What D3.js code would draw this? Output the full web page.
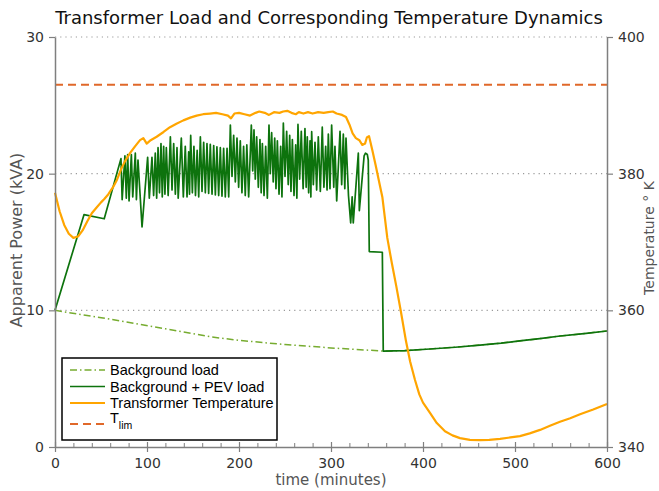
<!DOCTYPE html>
<html><head><meta charset="utf-8">
<script src="https://cdn.jsdelivr.net/npm/d3@7"></script>
<style>
body{margin:0;background:#fff}
svg{display:block}
</style>
</head><body>
<svg id="chart" width="659" height="491" font-family="DejaVu Sans, sans-serif"></svg>
<script>
// ---------------- data ----------------
const bgTime = [0, 60, 120, 170, 200, 250, 300, 356.8, 380, 407.6, 435, 462, 485, 505, 527, 549, 575, 600];
const bgLoad = [10, 9.35, 8.65, 8.05, 7.8, 7.5, 7.25, 7.02, 7.05, 7.17, 7.3, 7.46, 7.6, 7.76, 7.93, 8.12, 8.3, 8.49];

const pevTime = [0, 31.5, 53.5, 71.7, 73.0, 76.0, 77.5, 79.0, 80.5, 83.0, 84.5, 87.3, 88.5, 90.2, 94.6,
  100.7, 102.5, 105.4, 107.2, 109.0, 110.5, 112.0, 113.6, 115.2, 116.6, 118.1, 119.5, 121.0, 123.0, 125.4, 127.2, 129.0, 130.8, 132.6, 133.9,
  137.3, 139.5, 141.6, 143.5, 145.3, 146.2, 147.5, 149.3, 151.0, 152.7, 154.5, 156.2, 158.0, 159.8, 161.6, 163.4, 165.2, 167.0, 168.8, 170.7,
  172.5, 174.3, 176.0, 177.9, 179.7, 181.5, 183.3, 185.1, 187.0, 188.8, 190.6, 192.4, 194.2, 196.0, 197.8, 199.6, 201.4, 203.2, 205.0, 206.8,
  208.5, 210.5, 213.4, 214.9, 216.3, 217.7, 219.2, 221.0, 222.8, 224.1, 225.4, 227.2, 229.0, 230.8, 232.6, 234.0, 235.5, 237.2, 238.8, 240.2,
  241.7, 243.5, 245.3, 246.7, 248.2, 250.0, 251.8, 253.5, 255.1, 256.5, 258.0, 259.8, 261.6, 262.9, 264.1, 265.9, 267.7, 269.7, 271.7, 273.0,
  274.2, 275.7, 277.2, 278.1, 279.0, 280.8, 282.6, 284.4, 286.2, 288.4, 290.5, 292.3, 294.2, 295.7, 297.1, 298.9, 300.7, 303.0, 304.3, 306.2,
  309.8, 311.6, 313.4, 315.0, 316.3, 319.0, 321.4, 323.0, 324.2, 329.7, 330.8, 336.0, 337.5, 339.5, 340.5, 341.6, 355.8, 356.8,
  380, 407.6, 435, 462, 485, 505, 527, 549, 575, 600];
const pevLoad = [10, 17.0, 16.7, 21.1, 18.1, 21.3, 18.2, 21.4, 18.0, 21.4, 18.3, 21.5, 18.1, 21.0, 16.1,
  21.2, 18.2, 21.2, 18.4, 21.5, 18.2, 21.9, 18.6, 22.2, 18.3, 22.0, 18.5, 21.9, 18.4, 22.7, 18.8, 22.2, 18.5, 21.9, 18.2,
  22.6, 18.3, 22.0, 18.3, 21.6, 18.5, 22.8, 18.6, 22.0, 18.4, 21.7, 18.3, 22.7, 18.7, 22.3, 18.6, 22.2, 18.55, 22.15, 18.5,
  22.05, 18.45, 21.97, 18.4, 21.9, 18.35, 21.85, 18.3, 21.85, 18.3, 23.56, 19.8, 22.8, 19.4, 22.6, 19.0, 22.4, 18.6, 22.0, 18.4,
  22.1, 18.3, 23.56, 20.2, 23.2, 19.6, 22.7, 19.0, 22.5, 18.6, 22.2, 18.4, 22.0, 18.2, 23.56, 20.0, 23.0, 19.4, 22.6, 18.9,
  22.4, 18.5, 22.0, 18.3, 23.7, 19.8, 23.1, 19.2, 22.8, 18.7, 22.5, 18.4, 22.1, 18.2, 23.6, 19.6, 23.1, 18.9, 23.3, 19.0,
  22.7, 18.6, 22.4, 18.3, 23.07, 19.2, 22.3, 18.8, 22.7, 18.7, 23.4, 19.0, 22.0, 18.8, 22.9, 18.9, 23.56, 19.0, 22.0, 18.0,
  23.1, 19.2, 22.9, 18.9, 22.6, 18.4, 16.4, 18.3, 16.4, 21.5, 17.3, 21.3, 21.5, 21.4, 21.0, 14.3, 14.25, 7.02,
  7.05, 7.17, 7.3, 7.46, 7.6, 7.76, 7.93, 8.12, 8.3, 8.49];

const tempTime = [0, 5, 10, 15, 20, 25, 30, 35, 40, 45, 50, 53.6, 58, 63.4, 67, 71.7, 76, 81.5, 87, 92.4, 96, 99.7, 104, 110.5,
  118, 125, 132, 139.5, 147, 154, 161, 168.5, 175, 182, 188, 191.3, 195, 200, 206, 212, 218, 222, 228, 232.6, 238, 244, 248,
  252.5, 257, 261.7, 265, 270, 275, 280, 286, 292, 297, 302, 306, 312, 316.3, 320, 323.5, 327, 330.8, 334, 337, 339, 341.3,
  345, 348.6, 352, 355.8, 361.2, 366, 371, 376, 381.5, 386, 391.3, 396, 400, 407.6, 415, 423.9, 432, 440.2, 451, 462, 472,
  483.7, 495, 505.4, 516, 527.2, 538, 548.9, 560, 570.7, 585, 600];
const tempK = [377.2, 374.5, 372.5, 371.2, 370.6, 370.8, 371.7, 373.0, 374.2, 375.0, 375.8, 376.3, 377.0, 378.1, 379.0, 380.6,
  381.8, 383.0, 384.0, 384.9, 385.2, 384.4, 384.9, 385.4, 386.1, 386.8, 387.3, 387.8, 388.2, 388.5, 388.7, 388.8, 388.9, 388.7,
  388.5, 388.1, 388.8, 388.9, 388.7, 388.5, 388.9, 389.1, 388.9, 388.6, 389.0, 388.9, 389.1, 389.2, 388.9, 388.7, 389.0, 388.8,
  389.0, 388.8, 389.0, 388.9, 389.0, 389.1, 388.8, 388.6, 388.3, 387.2, 385.9, 385.2, 384.9, 384.2, 384.4, 385.3, 385.5,
  383.4, 381.2, 379.0, 376.6, 370.6, 367.0, 363.5, 359.8, 355.5, 352.5, 349.8, 347.7, 346.5, 345.0, 343.5, 342.3, 341.7,
  341.3, 341.05, 341.0, 341.05, 341.2, 341.4, 341.6, 342.0, 342.5, 343.1, 343.7, 344.2, 344.8, 345.5, 346.3];

const tLimK = 393;

const xTicks = [0, 100, 200, 300, 400, 500, 600];
const xMinorTicks = [20, 40, 60, 80, 120, 140, 160, 180, 220, 240, 260, 280, 320, 340, 360, 380, 420, 440, 460, 480, 520, 540, 560, 580];
const yLeftTicks = [0, 10, 20, 30];
const yRightTicks = [340, 360, 380, 400];
const gridValues = [10, 20, 30];
const legendLabels = ["Background load", "Background + PEV load", "Transformer Temperature", "T"];

const titleText = "Transformer Load and Corresponding Temperature Dynamics";
const xLabel = "time (minutes)";
const yLeftLabel = "Apparent Power (kVA)";
const yRightLabel = "Temperature \u00B0 K";

// ---------------- layout ----------------
const L = 55, R = 607, T = 37, B = 447;
const colBg = "#77AC30", colPev = "#0d730d", colTemp = "#FFA500", colLim = "#E0682A";
const axisCol = "#7f7f7f", textCol = "#333";

const svg = d3.select("#chart");
const x = d3.scaleLinear().domain([0, 600]).range([L, R]);
const yL = d3.scaleLinear().domain([0, 30]).range([B, T]);
const yR = d3.scaleLinear().domain([340, 400]).range([B, T]);

// grid
svg.append("g").selectAll("line").data(gridValues).join("line")
  .attr("x1", L).attr("x2", R)
  .attr("y1", d => yL(d)).attr("y2", d => yL(d))
  .attr("stroke", "#9a9a9a").attr("stroke-width", 1.2).attr("stroke-dasharray", "1.2,4");

// lines
const zip = (a, b) => a.map((t, i) => [t, b[i]]);
const lineL = d3.line().x(d => x(d[0])).y(d => yL(d[1]));
const lineR = d3.line().x(d => x(d[0])).y(d => yR(d[1]));

svg.append("path").datum(zip(bgTime, bgLoad)).attr("d", lineL)
  .attr("fill", "none").attr("stroke", colBg).attr("stroke-width", 1.5).attr("stroke-dasharray", "7,3,1.5,3");
svg.append("path").datum(zip(pevTime, pevLoad)).attr("d", lineL)
  .attr("fill", "none").attr("stroke", colPev).attr("stroke-width", 1.7).attr("stroke-linejoin", "round");
svg.append("path").datum(zip(tempTime, tempK)).attr("d", lineR)
  .attr("fill", "none").attr("stroke", colTemp).attr("stroke-width", 2.2).attr("stroke-linejoin", "round");
svg.append("path").datum([[0, tLimK], [600, tLimK]]).attr("d", lineR)
  .attr("fill", "none").attr("stroke", colLim).attr("stroke-width", 2).attr("stroke-dasharray", "8,5");

// axes
function styleAxis(g) {
  g.attr("font-family", null).attr("font-size", null);
  g.select(".domain").attr("stroke", axisCol).attr("stroke-width", 1.5);
  g.selectAll(".tick line").attr("stroke", axisCol).attr("stroke-width", 1.2);
  g.selectAll(".tick text").attr("fill", textCol).style("font-size", "14px")
    .style("font-family", "DejaVu Sans, sans-serif");
}
const gx = svg.append("g").attr("transform", `translate(0,${B})`)
  .call(d3.axisBottom(x).tickValues(xTicks).tickSize(5).tickPadding(6).tickSizeOuter(0));
styleAxis(gx);
gx.selectAll(".tick line").attr("y1", -5).attr("y2", 5);
const gxm = svg.append("g").attr("transform", `translate(0,${B})`)
  .call(d3.axisBottom(x).tickValues(xMinorTicks).tickSize(-4).tickFormat("").tickSizeOuter(0));
gxm.select(".domain").remove();
gxm.selectAll(".tick line").attr("stroke", axisCol).attr("stroke-width", 1);

const gyl = svg.append("g").attr("transform", `translate(${L},0)`)
  .call(d3.axisLeft(yL).tickValues(yLeftTicks).tickSize(6).tickPadding(5).tickSizeOuter(0));
styleAxis(gyl);
const gyr = svg.append("g").attr("transform", `translate(${R},0)`)
  .call(d3.axisRight(yR).tickValues(yRightTicks).tickSize(6).tickPadding(5).tickSizeOuter(0));
styleAxis(gyr);

// titles
svg.append("text").attr("x", 329).attr("y", 24).attr("text-anchor", "middle")
  .style("font-size", "18px").attr("fill", "#111").text(titleText);
svg.append("text").attr("x", 331).attr("y", 485).attr("text-anchor", "middle")
  .style("font-size", "15px").attr("fill", "#555").text(xLabel);
svg.append("text").attr("transform", "translate(22,240) rotate(-90)").attr("text-anchor", "middle")
  .style("font-size", "16px").attr("fill", "#555").text(yLeftLabel);
svg.append("text").attr("transform", "translate(654,238) rotate(-90)").attr("text-anchor", "middle")
  .style("font-size", "14px").attr("fill", "#555").text(yRightLabel);

// legend
const lg = svg.append("g");
lg.append("rect").attr("x", 62).attr("y", 358).attr("width", 215).attr("height", 82)
  .attr("fill", "#fff").attr("stroke", "#000").attr("stroke-width", 1.5);
const legendStyles = [
  {c: colBg, w: 1.5, d: "7,3,1.5,3"},
  {c: colPev, w: 1.5, d: null},
  {c: colTemp, w: 2.2, d: null},
  {c: colLim, w: 2, d: "8,5"}
];
const rowY = [370, 386.5, 403, 424];
legendLabels.forEach((lab, i) => {
  const s = legendStyles[i];
  lg.append("line").attr("x1", 70).attr("x2", 105).attr("y1", rowY[i]).attr("y2", rowY[i])
    .attr("stroke", s.c).attr("stroke-width", s.w).attr("stroke-dasharray", s.d);
  const t = lg.append("text").attr("x", 110).attr("y", rowY[i] + 5)
    .style("font-family", "'Liberation Sans', Arial, sans-serif").style("font-size", "14.5px").attr("fill", "#000");
  if (i === 3) {
    t.attr("y", rowY[i] - 1);
    t.append("tspan").text(lab);
    t.append("tspan").attr("dy", 6).style("font-size", "10.5px").text("lim");
  } else {
    t.text(lab);
  }
});
</script>
</body></html>
